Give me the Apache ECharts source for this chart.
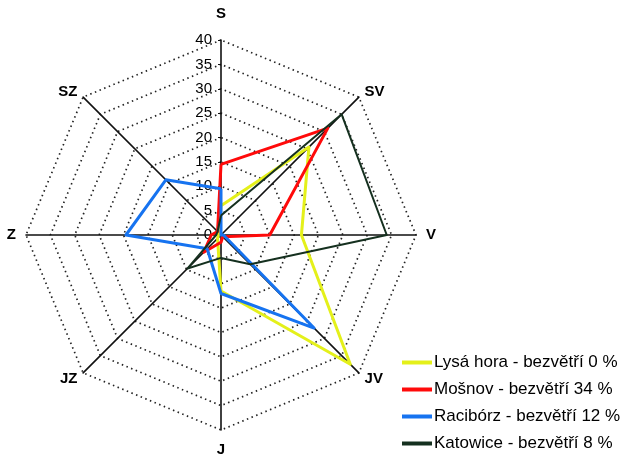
<!DOCTYPE html>
<html>
<head>
<meta charset="utf-8">
<script src="https://cdn.jsdelivr.net/npm/echarts@6/dist/echarts.min.js"></script>
<style>
html,body{margin:0;padding:0;background:#fff;}
#c{width:621px;height:460px;}
</style>
</head>
<body>
<div id="c"></div>
<script>
// Directions in clockwise order starting at top
var directions = ['S', 'SV', 'V', 'JV', 'J', 'JZ', 'Z', 'SZ'];
var seriesNames = ['Lysá hora - bezvětří 0 %', 'Mošnov - bezvětří 34 %', 'Racibórz - bezvětří 12 %', 'Katowice - bezvětří 8 %'];
var lysaHora = [6, 25.5, 16.5, 37.5, 11.5, 1, 0.5, 0.5];
var mosnov   = [14.5, 31, 10, 0.5, 1.5, 5, 2, 1];
var raciborz = [9.5, 0, 0.5, 27, 12, 4, 19.5, 16];
var katowice = [4, 35, 34, 8.5, 4.7, 9.7, 1, 1];
var radialMax = 40;
var radialStep = 5;

var colors = ['#e4f01a', '#ff0a0a', '#1673f0', '#15301f'];
var widths = [3, 3, 3, 2];
var nameGaps = {S: 19, SV: 8, V: 10, JV: 8, J: 12, JZ: 8, Z: 10, SZ: 8};

// ECharts radar places indicators counter-clockwise; reorder.
var order = [0, 7, 6, 5, 4, 3, 2, 1];
var indicators = order.map(function (i) {
  var d = directions[i];
  var ind = { name: d, min: 0, max: radialMax, nameGap: nameGaps[d] };
  if (d === 'S') {
    ind.axisLabel = { show: true };
    ind.axisTick = { show: true };
  }
  return ind;
});
function reorder(arr) { return order.map(function (i) { return arr[i]; }); }
var allData = [lysaHora, mosnov, raciborz, katowice];

var chart = echarts.init(document.getElementById('c'));
chart.setOption({
  animation: false,
  backgroundColor: '#ffffff',
  textStyle: { fontFamily: 'Liberation Sans, Arial, sans-serif' },
  legend: {
    orient: 'vertical',
    left: 397,
    top: 349,
    itemWidth: 30,
    itemHeight: 4,
    itemGap: 10,
    icon: 'rect',
    textStyle: { color: '#000', fontSize: 17, padding: [0, 0, 0, -3], fontFamily: 'Liberation Sans, Arial, sans-serif' },
    data: seriesNames
  },
  radar: {
    center: [221, 235],
    radius: 195,
    startAngle: 90,
    shape: 'polygon',
    splitNumber: radialMax / radialStep,
    indicator: indicators,
    axisName: { color: '#000', fontWeight: 'bold', fontSize: 15, fontFamily: 'Liberation Sans, Arial, sans-serif' },
    axisLine: { lineStyle: { color: '#111', width: 1.6 } },
    axisTick: { show: false, length: 3, lineStyle: { color: '#111', width: 1 } },
    axisLabel: { show: false, color: '#000', fontSize: 15, margin: 9, fontFamily: 'Liberation Sans, Arial, sans-serif' },
    splitLine: { lineStyle: { color: '#222', type: [1.5, 3.5], width: 1.7 } },
    splitArea: { show: false }
  },
  series: [{
    type: 'radar',
    symbol: 'none',
    data: allData.map(function (arr, k) {
      return {
        name: seriesNames[k],
        value: reorder(arr),
        itemStyle: { color: colors[k] },
        lineStyle: { color: colors[k], width: widths[k] }
      };
    })
  }]
});
</script>
</body>
</html>
